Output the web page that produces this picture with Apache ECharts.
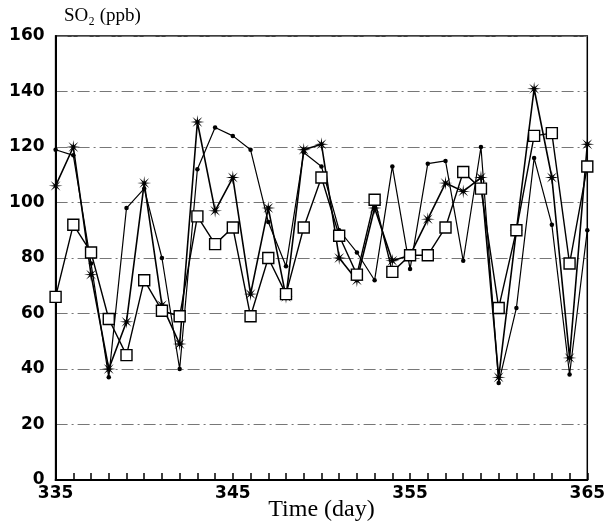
<!DOCTYPE html>
<html><head><meta charset="utf-8">
<script src="https://cdn.jsdelivr.net/npm/echarts@6/dist/echarts.min.js"></script>
<style>html,body{margin:0;padding:0;background:#fff}#c{width:607px;height:523px}</style>
</head><body><div id="c"></div>
<script>
const days = [335,336,337,338,339,340,341,342,343,344,345,346,347,348,349,350,351,352,353,354,355,356,357,358,359,360,361,362,363,364,365];
const dotValues = [119,117,78,37,98,105,80,40,112,127,124,119,93,77,118,113,90,82,72,113,76,114,115,79,120,35,62,116,92,38,90];
const starValues = [106,120,74,40,57,107,63,49,129,97,109,67,98,66,119,121,80,72,98,79,81,94,107,104,109,37,90,141,109,44,121];
const squareValues = [66,92,82,58,45,72,61,59,95,85,91,59,80,67,91,109,88,74,101,75,81,81,91,111,105,62,90,124,125,78,113];
const xTickLabels = [335,345,355,365];
const yTicks = [0,20,40,60,80,100,120,140,160];

function pairs(vals){ return days.map((d,i)=>[d, vals[i]]); }

// asterisk symbol path (8 spokes)
let p = '';
for (let i=0;i<16;i++){
  const a = i*22.5*Math.PI/180;
  const r = (i%2===0) ? 50 : 13;
  const x = (50 + r*Math.sin(a)).toFixed(2), y = (50 - r*Math.cos(a)).toFixed(2);
  p += (i===0?'M':'L') + x + ' ' + y + ' ';
}
const starPath = 'path://' + p + 'Z';

const chart = echarts.init(document.getElementById('c'), null, {renderer:'canvas'});
const numFont = {fontFamily:'DejaVu Sans', fontWeight:'bold', fontSize:17, color:'#000'};
chart.setOption({
  animation:false,
  backgroundColor:'#fff',
  title:{text:'SO₂ (ppb)', left:59, top:2, textStyle:{fontFamily:'Liberation Serif, DejaVu Serif', fontWeight:'normal', fontSize:19, color:'#000'}},
  grid:{left:55.6, right:19.7, top:36, bottom:43, containLabel:false, outerBoundsMode:'none',
    show:true, borderColor:'#000', borderWidth:1.5, backgroundColor:'transparent'},
  xAxis:{type:'value', min:days[0], max:days[days.length-1], interval:1,
    name:'Time (day)', nameLocation:'middle', nameGap:18, nameMoveOverlap:false,
    nameTextStyle:{fontFamily:'Liberation Serif, DejaVu Serif', fontSize:24, color:'#000', verticalAlign:'top'},
    axisLine:{show:true, onZero:false, lineStyle:{color:'#000', width:2}},
    axisTick:{show:true, inside:true, length:7, lineStyle:{color:'#000', width:1.5}},
    splitLine:{show:false},
    axisLabel:{...numFont, margin:5, showMinLabel:true, showMaxLabel:true,
      formatter:v => xTickLabels.includes(v) ? String(v) : ''}
  },
  yAxis:{type:'value', min:yTicks[0], max:yTicks[yTicks.length-1], interval:20,
    axisLine:{show:true, lineStyle:{color:'#000', width:2}},
    axisTick:{show:false},
    axisLabel:{...numFont, margin:11},
    splitLine:{show:true, lineStyle:{color:'#777', width:1, type:[12,4,2,4]}}
  },
  series:[
    {type:'line', data:pairs(dotValues), symbol:'circle', symbolSize:4.5,
      lineStyle:{color:'#000', width:1.2}, itemStyle:{color:'#000'}, z:2},
    {type:'line', data:pairs(starValues), symbol:starPath, symbolSize:14,
      lineStyle:{color:'#000', width:1.6}, itemStyle:{color:'#000'}, z:3},
    {type:'line', data:pairs(squareValues), symbol:'rect', symbolSize:11,
      lineStyle:{color:'#000', width:1.4}, itemStyle:{color:'#fff', borderColor:'#000', borderWidth:1.4}, z:4}
  ]
});
</script></body></html>
